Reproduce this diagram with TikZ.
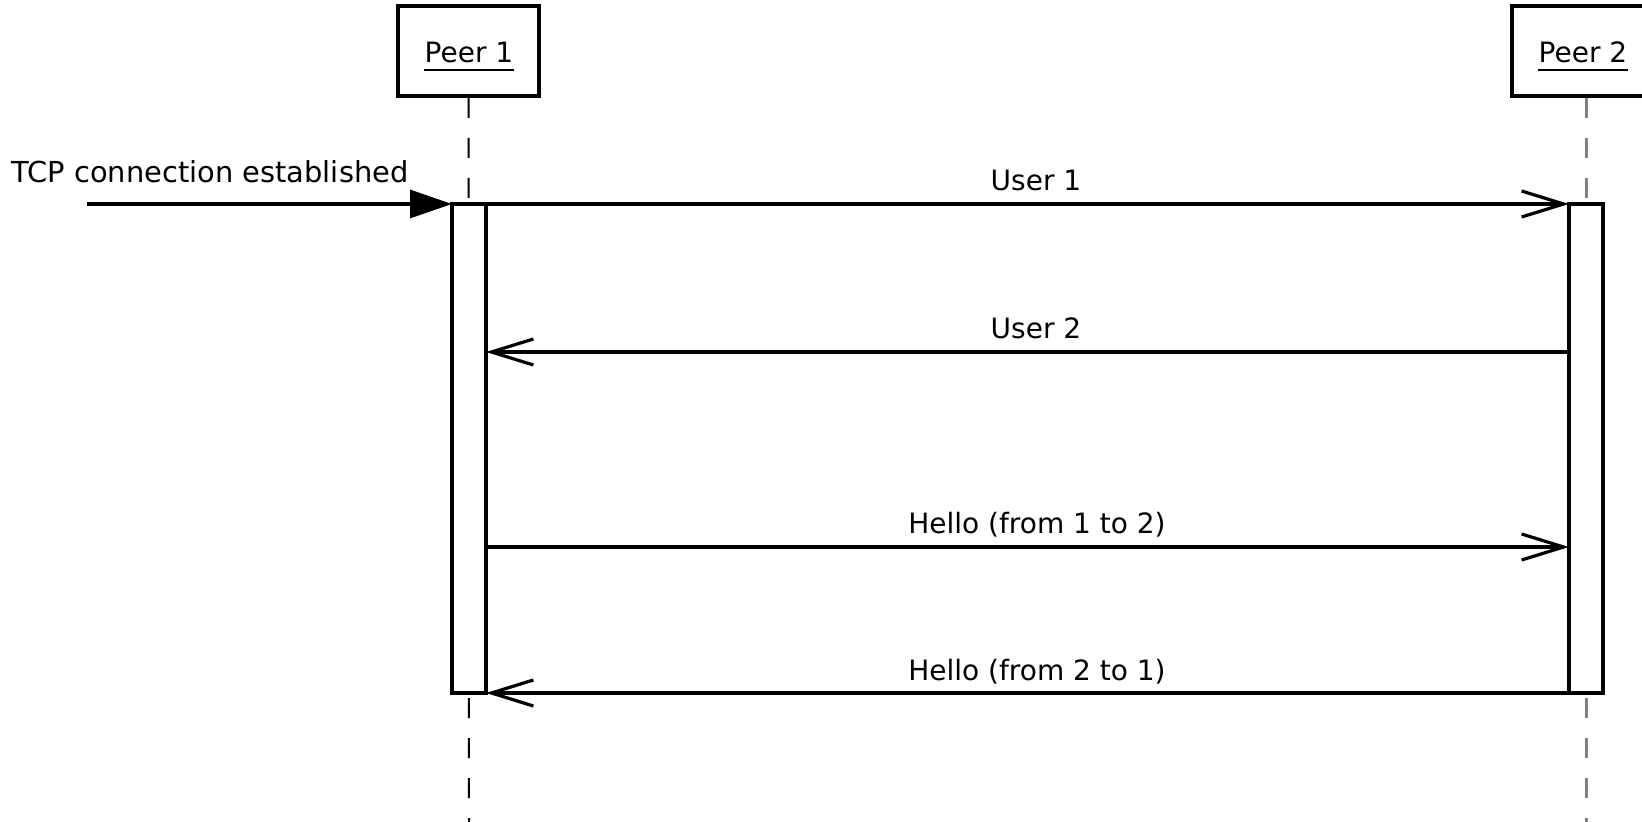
\documentclass[tikz,border=0pt]{standalone}
\usepackage{fontspec}
\setmainfont{DejaVu Sans}
\usetikzlibrary{arrows.meta}
\begin{document}
\begin{tikzpicture}[x=0.5pt,y=-0.5pt,
  font=\fontsize{14pt}{16pt}\selectfont,
  participant/.style={draw=black,line width=2pt,fill=white,minimum width=70.5pt,minimum height=45pt,inner sep=0pt},
  ptext/.style={inner sep=0pt,anchor=base},
  lifeline/.style={line width=1pt,dash pattern=on 10pt off 10pt},
  actbar/.style={draw=black,line width=1.6pt,fill=white,minimum width=17pt,minimum height=244.5pt,inner sep=0pt,outer sep=0pt},
  msg/.style={line width=1.6pt,-{Straight Barb[length=21pt,width=13pt,line width=1.6pt]}},
  found/.style={line width=1.6pt,-{Triangle[length=21pt,width=14pt]}},
  mlabel/.style={inner sep=0pt,anchor=base}]
\useasboundingbox (0,0) rectangle (1642,822);
% participants
\node[participant] (p1) at (468.5,51) {};
\node[participant,minimum width=74pt] (p2) at (1586,51) {};
\node[ptext] (t1) at (469,63) {Peer 1};
\node[ptext] (t2) at (1583,63) {Peer 2};
\draw[line width=1pt] ([yshift=-3.5pt]t1.base west) -- ([yshift=-3.5pt]t1.base east);
\draw[line width=1pt] ([yshift=-3.5pt]t2.base west) -- ([yshift=-3.5pt]t2.base east);
% lifelines
\coordinate (l1end) at (469,822);
\coordinate (l2end) at (1586,822);
\draw[lifeline,black] (p1.south) -- (l1end);
\draw[lifeline,black!50,line width=1.5pt] (p2.south) -- (l2end);
% activation bars
\node[actbar] (a1) at (469,448.5) {};
\node[actbar] (a2) at (1586,448.5) {};
% found message
\coordinate (tcpstart) at (87,204);
\draw[found] (tcpstart) -- (a1.north west);
\node[mlabel,font=\fontsize{14.45pt}{16pt}\selectfont] (tcp) at (210,183) {TCP connection established};
% messages
\coordinate (m1s) at (486,204); \coordinate (m1e) at (1569,204);
\coordinate (m2s) at (1569,352); \coordinate (m2e) at (486,352);
\coordinate (m3s) at (486,547); \coordinate (m3e) at (1569,547);
\coordinate (m4s) at (1569,693); \coordinate (m4e) at (486,693);
\draw[msg] (m1s) -- (m1e);
\draw[msg] (m2s) -- (m2e);
\draw[msg] (m3s) -- (m3e);
\draw[msg] (m4s) -- (m4e);
\node[mlabel] (u1) at (1036,191) {User 1};
\node[mlabel] (u2) at (1036,339) {User 2};
\node[mlabel] (h1) at (1037,534) {Hello (from 1 to 2)};
\node[mlabel] (h2) at (1037,680) {Hello (from 2 to 1)};
\end{tikzpicture}
\end{document}
